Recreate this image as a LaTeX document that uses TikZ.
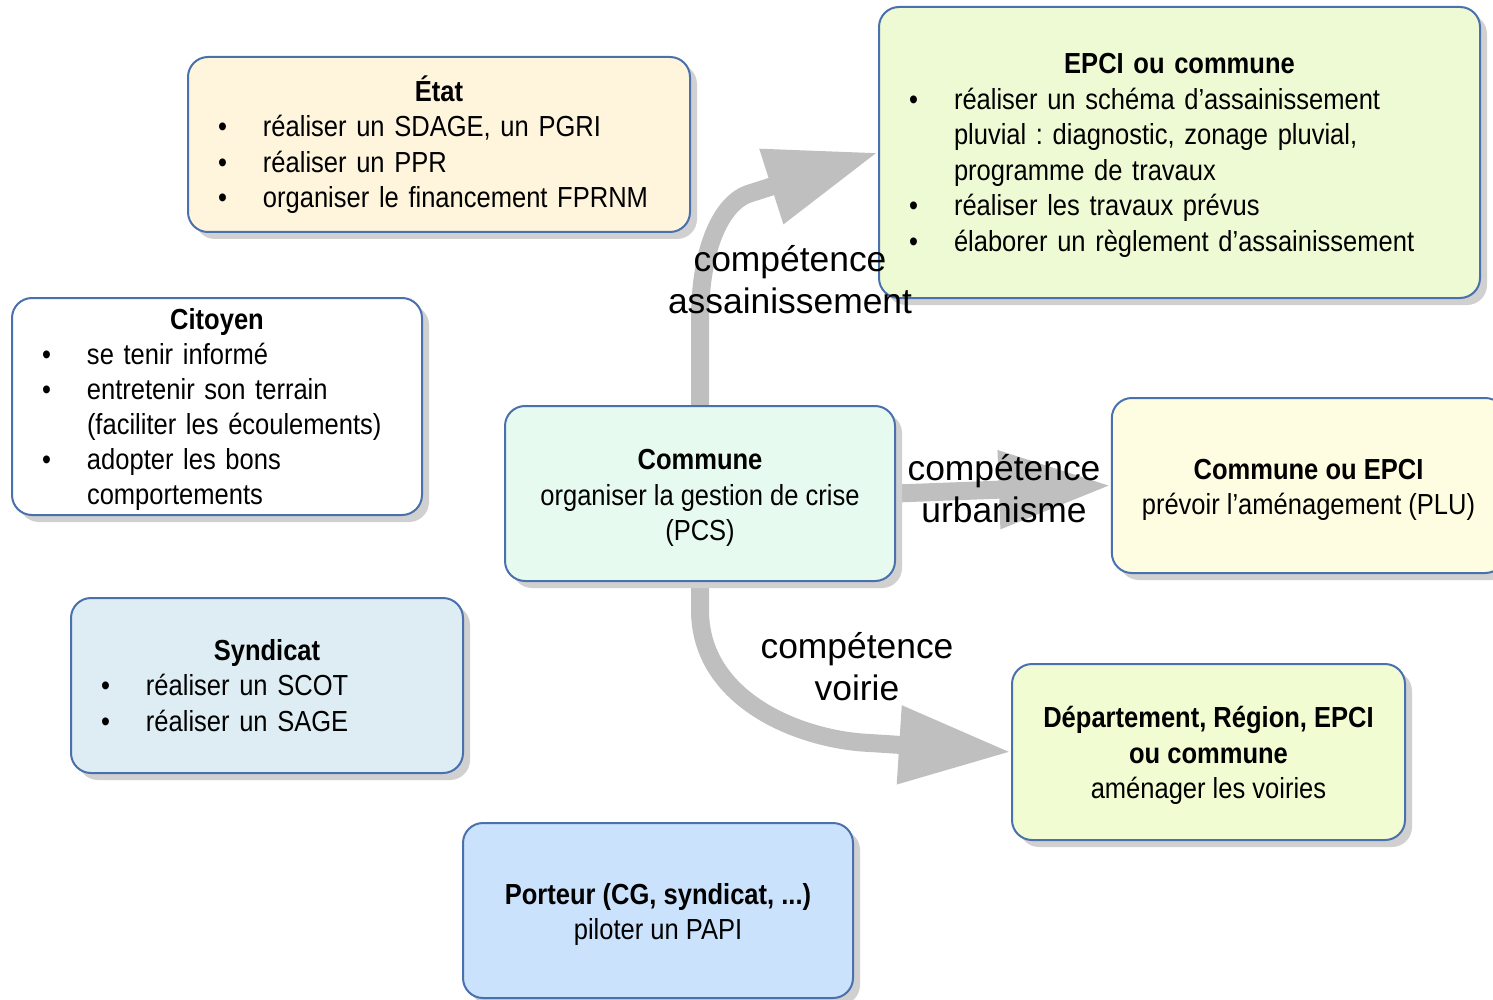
\documentclass[tikz,border=0pt]{standalone}
\usepackage{fontspec}
\setmainfont{Liberation Sans}
\newfontfamily\boxfont{Liberation Sans}[FakeStretch=0.88]
\usetikzlibrary{arrows.meta,shadows,backgrounds}
\definecolor{bordure}{HTML}{4A70AE}
\definecolor{gris}{HTML}{BFBFBF}
\definecolor{ombre}{HTML}{D0D0D0}
\definecolor{cetat}{HTML}{FEF5DC}
\definecolor{cepci}{HTML}{EEFAD3}
\definecolor{ccommune}{HTML}{E6FAF0}
\definecolor{curba}{HTML}{FFFDE1}
\definecolor{csyndicat}{HTML}{DEEDF3}
\definecolor{cdept}{HTML}{F1FCD2}
\definecolor{cporteur}{HTML}{CAE2FB}
\newcommand{\titre}[1]{\makebox[\hsize]{\rule{0pt}{15.5pt}\bfseries #1}\par}
\newcommand{\puces}[1]{\begin{tabular}[t]{@{}p{22.5pt}@{}l@{}}#1\end{tabular}}
\newcommand{\haut}{\rule{0pt}{14.5pt}}

\begin{document}
\frenchspacing
\begin{tikzpicture}[x=0.5pt,y=-0.5pt,
  boite/.style={draw=bordure,line width=1pt,rounded corners=10pt,
    drop shadow={shadow xshift=3.5pt,shadow yshift=-3.5pt,fill=ombre,opacity=1},
    font=\boxfont\fontsize{14.5}{17.75}\selectfont,inner xsep=15pt,inner ysep=4pt},
  liste/.style={boite,align=left},
  fleche/.style={draw=gris,line width=9pt,-{Triangle[length=56pt,width=37pt]}},
  etiquette/.style={align=center,font=\fontsize{17.7}{21}\selectfont}]
\useasboundingbox (0,0) rectangle (1493,1000);
\node[liste,fill=cetat,text width=221pt,minimum height=87.5pt] (etat) at (439,144.5)
  {\titre{État}\puces{\textbullet & réaliser un SDAGE, un PGRI\\
   \textbullet & réaliser un PPR\\
   \textbullet & organiser le financement FPRNM}};
\node[liste,fill=cepci,text width=270.5pt,minimum height=145.5pt] (epci) at (1179.5,152.5)
  {\titre{EPCI ou commune}\puces{\textbullet & réaliser un schéma d’assainissement\\
   & pluvial : diagnostic, zonage pluvial,\\
   & programme de travaux\\
   \textbullet & réaliser les travaux prévus\\
   \textbullet & élaborer un règlement d’assainissement}};
\node[liste,fill=white,text width=175pt,minimum height=108.5pt,inner ysep=0pt,
  font=\boxfont\fontsize{14.5}{17.5}\selectfont] (citoyen) at (217,406.5)
  {\titre{Citoyen}\puces{\textbullet & se tenir informé\\
   \textbullet & entretenir son terrain\\
   & (faciliter les écoulements)\\
   \textbullet & adopter les bons\\
   & comportements}};
\node[boite,fill=ccommune,align=center,minimum width=195pt,minimum height=87.5pt] (commune) at (700,493.5)
  {\haut\textbf{Commune}\\organiser la gestion de crise\\(PCS)};
\node[boite,fill=curba,align=center,minimum width=196.5pt,minimum height=87.5pt] (urba) at (1308.5,485.5)
  {\haut\textbf{Commune ou EPCI}\\prévoir l’aménagement (PLU)};
\node[liste,fill=csyndicat,text width=166pt,minimum height=87.5pt] (syndicat) at (267,685.5)
  {\titre{Syndicat}\puces{\textbullet & réaliser un SCOT\\
   \textbullet & réaliser un SAGE}};
\node[boite,fill=cdept,align=center,minimum width=196.5pt,minimum height=88pt] (dept) at (1208.5,752)
  {\haut\textbf{Département, Région, EPCI}\\\textbf{ou commune}\\aménager les voiries};
\node[boite,fill=cporteur,align=center,minimum width=195pt,minimum height=87.5pt] (porteur) at (658,910.5)
  {\haut\textbf{Porteur (CG, syndicat, ...)}\\piloter un PAPI};
\begin{pgfonlayer}{background}
\draw[fleche] (commune.north) -- (700,320) .. controls (700,245) and (723,203) .. (748,194) -- (epci.west);
\draw[fleche] (commune.east) -- (urba.west);
\draw[fleche] (commune.south) -- (700,610) .. controls (700,700) and (800,740) .. (870,743) -- (dept.west);
\end{pgfonlayer}
\node[etiquette] (lassain) at (790,280) {compétence\\assainissement};
\node[etiquette] (lurba) at (1004,489) {compétence\\urbanisme};
\node[etiquette] (lvoirie) at (857,667) {compétence\\voirie};
\end{tikzpicture}
\end{document}
